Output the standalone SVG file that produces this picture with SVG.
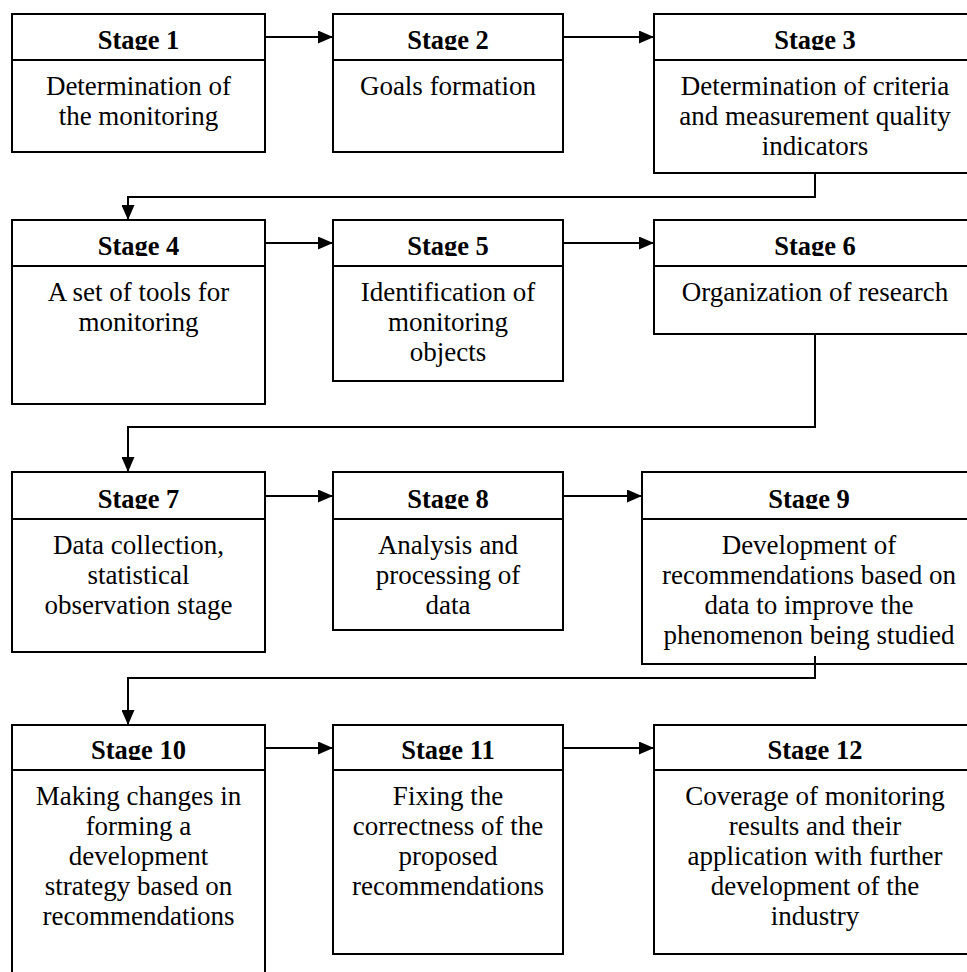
<svg xmlns="http://www.w3.org/2000/svg" width="967" height="972" viewBox="0 0 967 972">
<style>
.box{fill:#fff;stroke:#000;stroke-width:2}
.div{stroke:#000;stroke-width:2}
.hd{font-size:26.5px;font-weight:bold;text-anchor:middle;fill:#000}
.bd{font-size:27px;text-anchor:middle;fill:#000}
.con{fill:none;stroke:#000;stroke-width:2}
</style>
<defs>
<marker id="ah" markerUnits="userSpaceOnUse" markerWidth="15" markerHeight="13" refX="15" refY="6.5" orient="auto">
<path d="M0,0 L15,6.5 L0,13 z" fill="#000"/>
</marker>
<clipPath id="c1"><rect x="0" y="0" width="967" height="50"/></clipPath>
<clipPath id="c2"><rect x="0" y="200" width="967" height="56"/></clipPath>
<clipPath id="c3"><rect x="0" y="450" width="967" height="59"/></clipPath>
<clipPath id="c4"><rect x="0" y="700" width="967" height="60"/></clipPath>
</defs>
<g id="connectors">
<line class="con" x1="265" y1="37" x2="333" y2="37" marker-end="url(#ah)"/>
<line class="con" x1="563" y1="37" x2="654" y2="37" marker-end="url(#ah)"/>
<path class="con" d="M815,173 V197 H128 V220" marker-end="url(#ah)"/>
<line class="con" x1="265" y1="243" x2="333" y2="243" marker-end="url(#ah)"/>
<line class="con" x1="563" y1="243" x2="654" y2="243" marker-end="url(#ah)"/>
<path class="con" d="M815,334 V427 H128 V472" marker-end="url(#ah)"/>
<line class="con" x1="265" y1="496" x2="333" y2="496" marker-end="url(#ah)"/>
<line class="con" x1="563" y1="496" x2="642" y2="496" marker-end="url(#ah)"/>
<line class="con" x1="265" y1="748" x2="333" y2="748" marker-end="url(#ah)"/>
<line class="con" x1="563" y1="748" x2="654" y2="748" marker-end="url(#ah)"/>
</g>
<g font-family="'Liberation Serif', Tinos, 'Times New Roman', 'DejaVu Serif', serif">
<g id="stage1">
<rect class="box" x="12" y="14" width="253" height="138"/>
<line class="div" x1="12" y1="60" x2="265" y2="60"/>
<text class="hd" x="138.5" y="49" clip-path="url(#c1)">Stage 1</text>
<text class="bd" x="138.5" y="95">Determination of</text>
<text class="bd" x="138.5" y="125">the monitoring</text>
</g>
<g id="stage2">
<rect class="box" x="333" y="14" width="230" height="138"/>
<line class="div" x1="333" y1="60" x2="563" y2="60"/>
<text class="hd" x="448" y="49" clip-path="url(#c1)">Stage 2</text>
<text class="bd" x="448" y="95">Goals formation</text>
</g>
<g id="stage3">
<rect class="box" x="654" y="14" width="322" height="159"/>
<line class="div" x1="654" y1="60" x2="976" y2="60"/>
<text class="hd" x="815" y="49" clip-path="url(#c1)">Stage 3</text>
<text class="bd" x="815" y="95">Determination of criteria</text>
<text class="bd" x="815" y="125">and measurement quality</text>
<text class="bd" x="815" y="155">indicators</text>
</g>
<g id="stage4">
<rect class="box" x="12" y="220" width="253" height="184"/>
<line class="div" x1="12" y1="266" x2="265" y2="266"/>
<text class="hd" x="138.5" y="255" clip-path="url(#c2)">Stage 4</text>
<text class="bd" x="138.5" y="301">A set of tools for</text>
<text class="bd" x="138.5" y="331">monitoring</text>
</g>
<g id="stage5">
<rect class="box" x="333" y="220" width="230" height="161"/>
<line class="div" x1="333" y1="266" x2="563" y2="266"/>
<text class="hd" x="448" y="255" clip-path="url(#c2)">Stage 5</text>
<text class="bd" x="448" y="301">Identification of</text>
<text class="bd" x="448" y="331">monitoring</text>
<text class="bd" x="448" y="361">objects</text>
</g>
<g id="stage6">
<rect class="box" x="654" y="220" width="322" height="114"/>
<line class="div" x1="654" y1="266" x2="976" y2="266"/>
<text class="hd" x="815" y="255" clip-path="url(#c2)">Stage 6</text>
<text class="bd" x="815" y="301">Organization of research</text>
</g>
<g id="stage7">
<rect class="box" x="12" y="472" width="253" height="180"/>
<line class="div" x1="12" y1="519" x2="265" y2="519"/>
<text class="hd" x="138.5" y="508" clip-path="url(#c3)">Stage 7</text>
<text class="bd" x="138.5" y="554">Data collection,</text>
<text class="bd" x="138.5" y="584">statistical</text>
<text class="bd" x="138.5" y="614">observation stage</text>
</g>
<g id="stage8">
<rect class="box" x="333" y="472" width="230" height="158"/>
<line class="div" x1="333" y1="519" x2="563" y2="519"/>
<text class="hd" x="448" y="508" clip-path="url(#c3)">Stage 8</text>
<text class="bd" x="448" y="554">Analysis and</text>
<text class="bd" x="448" y="584">processing of</text>
<text class="bd" x="448" y="614">data</text>
</g>
<g id="stage9">
<rect class="box" x="642" y="472" width="334" height="192"/>
<line class="div" x1="642" y1="519" x2="976" y2="519"/>
<text class="hd" x="809" y="508" clip-path="url(#c3)">Stage 9</text>
<text class="bd" x="809" y="554">Development of</text>
<text class="bd" x="809" y="584">recommendations based on</text>
<text class="bd" x="809" y="614">data to improve the</text>
<text class="bd" x="809" y="644">phenomenon being studied</text>
</g>
<path class="con" d="M815,656 V678 H128 V725" marker-end="url(#ah)"/>
<g id="stage10">
<rect class="box" x="12" y="725" width="253" height="300"/>
<line class="div" x1="12" y1="770" x2="265" y2="770"/>
<text class="hd" x="138.5" y="759" clip-path="url(#c4)">Stage 10</text>
<text class="bd" x="138.5" y="805">Making changes in</text>
<text class="bd" x="138.5" y="835">forming a</text>
<text class="bd" x="138.5" y="865">development</text>
<text class="bd" x="138.5" y="895">strategy based on</text>
<text class="bd" x="138.5" y="925">recommendations</text>
</g>
<g id="stage11">
<rect class="box" x="333" y="725" width="230" height="229"/>
<line class="div" x1="333" y1="770" x2="563" y2="770"/>
<text class="hd" x="448" y="759" clip-path="url(#c4)">Stage 11</text>
<text class="bd" x="448" y="805">Fixing the</text>
<text class="bd" x="448" y="835">correctness of the</text>
<text class="bd" x="448" y="865">proposed</text>
<text class="bd" x="448" y="895">recommendations</text>
</g>
<g id="stage12">
<rect class="box" x="654" y="725" width="322" height="229"/>
<line class="div" x1="654" y1="770" x2="976" y2="770"/>
<text class="hd" x="815" y="759" clip-path="url(#c4)">Stage 12</text>
<text class="bd" x="815" y="805">Coverage of monitoring</text>
<text class="bd" x="815" y="835">results and their</text>
<text class="bd" x="815" y="865">application with further</text>
<text class="bd" x="815" y="895">development of the</text>
<text class="bd" x="815" y="925">industry</text>
</g>
</g>
</svg>
